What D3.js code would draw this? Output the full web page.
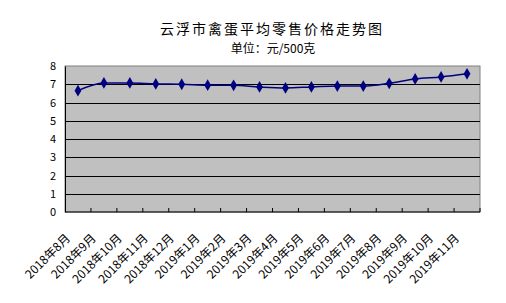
<!DOCTYPE html>
<html>
<head>
<meta charset="utf-8">
<script src="https://cdn.jsdelivr.net/npm/d3@7"></script>
<style>
  body { margin: 0; background: #fff; }
  text { font-family: "Noto Sans CJK SC", "DejaVu Sans", sans-serif; fill: #000; }
</style>
</head>
<body>
<script>
var months = ["2018年8月", "2018年9月", "2018年10月", "2018年11月", "2018年12月",
              "2019年1月", "2019年2月", "2019年3月", "2019年4月", "2019年5月",
              "2019年6月", "2019年7月", "2019年8月", "2019年9月", "2019年10月", "2019年11月"];
var prices = [6.65, 7.07, 7.07, 7.02, 7.0, 6.95, 6.94, 6.85, 6.8, 6.85,
              6.9, 6.9, 7.05, 7.29, 7.4, 7.57];
var yTicks = [0, 1, 2, 3, 4, 5, 6, 7, 8];

var W = 506, H = 303;
var margin = {top: 66, right: 26, bottom: 91, left: 65},
    width = W - margin.left - margin.right,
    height = H - margin.top - margin.bottom;

var svg = d3.select("body").append("svg")
    .attr("width", W)
    .attr("height", H);

svg.append("text")
    .attr("x", 272).attr("y", 34)
    .attr("text-anchor", "middle")
    .style("font-size", "14px")
    .style("letter-spacing", "2px")
    .text("云浮市禽蛋平均零售价格走势图");

svg.append("text")
    .attr("x", 273).attr("y", 53)
    .attr("text-anchor", "middle")
    .style("font-size", "12px")
    .text("单位：元/500克");

var g = svg.append("g")
    .attr("transform", "translate(" + margin.left + "," + margin.top + ")");

var x = d3.scaleBand().domain(months).range([0, width]);
var y = d3.scaleLinear().domain([0, 8]).range([height, 0]);

g.append("rect")
    .attr("width", width).attr("height", height)
    .attr("fill", "#c0c0c0")
    .attr("stroke", "#808080");

// gridlines
g.selectAll("line.grid")
    .data(yTicks.slice(1, -1))
  .enter().append("line")
    .attr("class", "grid")
    .attr("x1", 0).attr("x2", width)
    .attr("y1", function(d) { return Math.round(y(d)) + 0.5; })
    .attr("y2", function(d) { return Math.round(y(d)) + 0.5; })
    .attr("stroke", "#000");

var yAxis = g.append("g")
    .call(d3.axisLeft(y).tickValues(yTicks).tickSize(0).tickPadding(9));
yAxis.select(".domain").attr("stroke", "#000");
yAxis.selectAll("text").style("font-size", "11px");

var xAxis = g.append("g")
    .attr("transform", "translate(0," + height + ")")
    .call(d3.axisBottom(x).tickSize(4).tickSizeOuter(4));
xAxis.select(".domain").attr("stroke", "#000").attr("d", "M0.5,0H" + width);
xAxis.selectAll(".tick line")
    .attr("transform", function() { return "translate(" + (x.bandwidth() / 2) + ",0)"; })
    .attr("y2", -4)
    .attr("stroke", "#000");
xAxis.selectAll(".tick text")
    .style("font-size", "12px")
    .attr("text-anchor", "end")
    .attr("dy", "0.35em")
    .attr("transform", "translate(-15,19) rotate(-45)");

var line = d3.line()
    .x(function(d, i) { return x(months[i]) + x.bandwidth() / 2; })
    .y(function(d) { return y(d); })
    .curve(d3.curveMonotoneX);

g.append("path")
    .datum(prices)
    .attr("fill", "none")
    .attr("stroke", "#000080")
    .attr("stroke-width", 1.5)
    .attr("d", line);

g.selectAll("path.pt")
    .data(prices)
  .enter().append("path")
    .attr("class", "pt")
    .attr("d", d3.symbol().type(d3.symbolDiamond).size(40))
    .attr("transform", function(d, i) {
      return "translate(" + (x(months[i]) + x.bandwidth() / 2) + "," + y(d) + ")";
    })
    .attr("fill", "#000080");
</script>
</body>
</html>
